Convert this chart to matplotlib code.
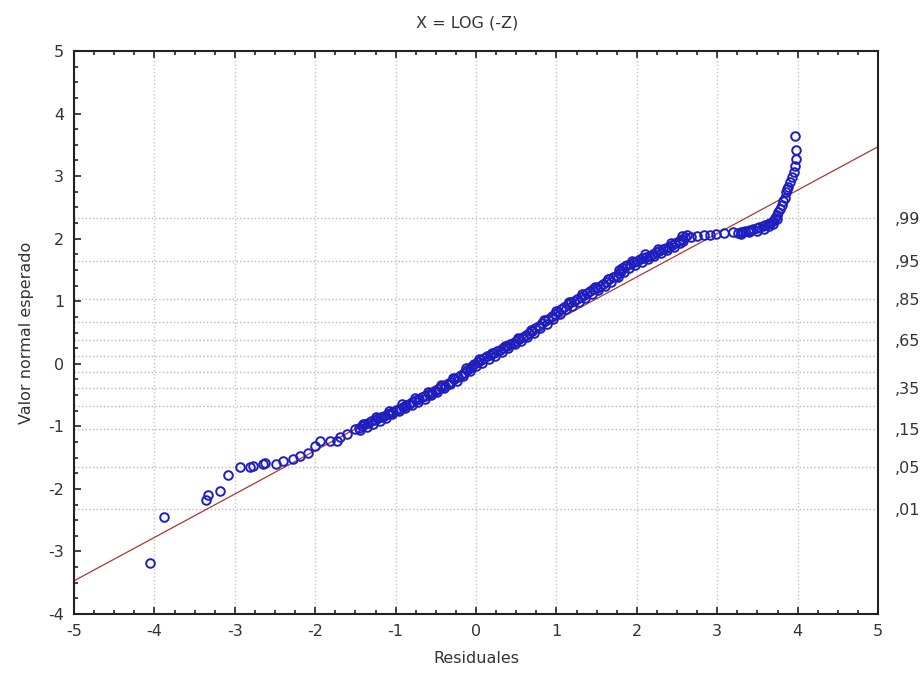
import matplotlib
matplotlib.use('Agg')
import matplotlib.pyplot as plt
from matplotlib.ticker import MultipleLocator
from statistics import NormalDist

# residuals (x) vs expected normal value (y)
resid = [
    -4.05, -3.88, -3.36, -3.33, -3.18, -3.08, -2.94, -2.81, -2.77, -2.65, -2.62,
    -2.49, -2.40, -2.27, -2.19, -2.09, -2.00, -1.94, -1.82, -1.73, -1.69, -1.60,
    -1.50, -1.46, -1.42, -1.38, -1.34, -1.30, -1.26, -1.22, -1.18, -1.14, -1.10, -1.07,
    -1.03, -0.99, -0.95, -0.91, -0.87, -0.83, -0.79, -0.75, -0.71, -0.67, -0.63,
    -0.59, -0.55, -0.51, -0.47, -0.43, -0.39,
    -0.35, -0.31, -0.27, -0.23, -0.19, -0.15, -0.11, -0.08, -0.05, -0.02, 0.02,
    0.06, 0.10, 0.14, 0.18, 0.22, 0.26, 0.30,
    0.34, 0.38, 0.42, 0.46, 0.50, 0.54, 0.58, 0.62, 0.66, 0.70, 0.74, 0.78, 0.82, 0.86, 0.90,
    0.94, 0.98, 1.02, 1.06, 1.10, 1.14, 1.18, 1.22, 1.26, 1.30, 1.34, 1.38, 1.42, 1.46, 1.50, 1.54,
    1.58, 1.62, 1.66, 1.70, 1.74, 1.78, 1.80, 1.82, 1.85, 1.88,
    1.92, 1.96, 2.00, 2.04, 2.08, 2.12, 2.16, 2.20, 2.24, 2.28, 2.32, 2.36, 2.40, 2.44,
    2.48, 2.52, 2.56, 2.60, 2.62,
    2.68, 2.75, 2.83, 2.91, 2.99, 3.08,
    3.20, 3.26, 3.29, 3.32, 3.35, 3.38, 3.41, 3.44, 3.49, 3.52, 3.57, 3.60, 3.63, 3.66,
    3.69, 3.72, 3.74, 3.76, 3.78, 3.80, 3.82, 3.84, 3.86, 3.87, 3.88, 3.91, 3.93,
    3.95, 3.97, 3.98, 3.98, 3.97,
]
expected = [
    -3.18, -2.45, -2.17, -2.09, -2.04, -1.77, -1.65, -1.65, -1.64, -1.60, -1.58,
    -1.60, -1.56, -1.52, -1.47, -1.43, -1.32, -1.23, -1.23, -1.23, -1.17, -1.12,
    -1.05, -1.03, -0.99, -0.97, -0.94, -0.92, -0.90, -0.87, -0.85, -0.83, -0.81, -0.79,
    -0.77, -0.74, -0.72, -0.69, -0.66, -0.64, -0.61, -0.58, -0.56, -0.53, -0.51,
    -0.48, -0.46, -0.43, -0.40, -0.37, -0.35,
    -0.32, -0.29, -0.25, -0.21, -0.18, -0.14, -0.10, -0.06, -0.03, 0.00, 0.03,
    0.06, 0.09, 0.12, 0.14, 0.17, 0.20, 0.22,
    0.25, 0.28, 0.31, 0.34, 0.37, 0.40, 0.43, 0.46, 0.49, 0.53, 0.57, 0.61, 0.65, 0.68, 0.72,
    0.76, 0.80, 0.83, 0.87, 0.91, 0.95, 0.98, 1.01, 1.04, 1.07, 1.10, 1.13, 1.16, 1.19, 1.21, 1.24,
    1.28, 1.31, 1.35, 1.38, 1.41, 1.45, 1.49, 1.53, 1.56, 1.58,
    1.60, 1.62, 1.64, 1.67, 1.69, 1.71, 1.73, 1.76, 1.78, 1.80, 1.83, 1.85, 1.87, 1.90,
    1.93, 1.96, 2.00, 2.03, 2.06,
    2.03, 2.04, 2.06, 2.06, 2.08, 2.09,
    2.10, 2.09, 2.10, 2.11, 2.12, 2.13, 2.14, 2.15, 2.17, 2.18, 2.20, 2.22, 2.23, 2.25,
    2.28, 2.33, 2.38, 2.43, 2.48, 2.54, 2.60, 2.65, 2.75, 2.79, 2.83, 2.91, 2.99,
    3.07, 3.16, 3.27, 3.41, 3.64,
]

# points on the lower / upper edge of the dense band
resid_lo = [
    -1.44, -1.36, -1.28, -1.20, -1.12, -1.04, -0.96, -0.88, -0.80, -0.72, -0.64, -0.56,
    -0.48, -0.40, -0.32, -0.24, -0.16, -0.08, 0.00, 0.08, 0.16, 0.24, 0.32, 0.40, 0.48,
    0.56, 0.64, 0.72, 0.80, 0.88, 0.96, 1.04, 1.12, 1.20, 1.28, 1.36, 1.44, 1.52, 1.60,
    1.68, 1.76, 1.84, 1.90, 1.98, 2.06, 2.14, 2.22, 2.30, 2.38, 2.46, 2.54, 2.58,
    3.30, 3.40, 3.50, 3.58, 3.65, 3.70, 3.74,
]
expected_lo = [
    -1.06, -1.01, -0.96, -0.91, -0.86, -0.81, -0.76, -0.71, -0.66, -0.61, -0.56, -0.50,
    -0.45, -0.39, -0.33, -0.27, -0.20, -0.11, -0.04, 0.02, 0.08, 0.13, 0.19, 0.25, 0.31,
    0.37, 0.43, 0.50, 0.57, 0.64, 0.72, 0.79, 0.87, 0.93, 0.99, 1.05, 1.12, 1.18, 1.24,
    1.31, 1.38, 1.47, 1.53, 1.58, 1.62, 1.67, 1.72, 1.77, 1.82, 1.87, 1.93, 1.97,
    2.07, 2.10, 2.13, 2.16, 2.20, 2.24, 2.32,
]
resid_hi = [
    -1.40, -1.24, -1.08, -0.92, -0.76, -0.60, -0.44, -0.28, -0.12, 0.04, 0.20, 0.36,
    0.52, 0.68, 0.84, 1.00, 1.16, 1.32, 1.48, 1.64, 1.78, 1.94, 2.10, 2.26, 2.42, 2.56,
]
expected_hi = [
    -0.96, -0.85, -0.75, -0.65, -0.55, -0.45, -0.34, -0.22, -0.06, 0.07, 0.18, 0.29,
    0.41, 0.54, 0.70, 0.84, 0.99, 1.12, 1.23, 1.36, 1.50, 1.65, 1.75, 1.83, 1.93, 2.04,
]

# fitted reference line
line_intercept = 0.0
line_slope = 0.694

# probability reference lines on the right
grid_probs = [0.01, 0.05, 0.15, 0.25, 0.35, 0.45, 0.55, 0.65, 0.75, 0.85, 0.95, 0.99]
label_probs = [0.01, 0.05, 0.15, 0.35, 0.65, 0.85, 0.95, 0.99]
label_text = [',01', ',05', ',15', ',35', ',65', ',85', ',95', ',99']

plt.rcParams['font.family'] = ['DejaVu Sans']
plt.rcParams['axes.unicode_minus'] = False
FS = 11.5
TXT = '#333333'

fig = plt.figure(figsize=(9.24, 6.84), dpi=100)
ax = fig.add_axes([74 / 924, 1 - 614 / 684, 804 / 924, 563 / 684])

nd = NormalDist()
for p in grid_probs:
    ax.axhline(nd.inv_cdf(p), color='#b8b8b8', ls=':', lw=1.0, zorder=1)
ax.grid(axis='x', which='major', color='#c4c4c4', ls=':', lw=1.0, zorder=1)

xs = [-5, 5]
ax.plot(xs, [line_intercept + line_slope * v for v in xs], color='#b03434', lw=0.9, zorder=2)
mk = dict(ls='none', marker='o', ms=6.2, mfc='none', mec='#1e1ec0', mew=1.4, zorder=3)
ax.plot(resid_lo, expected_lo, **mk)
ax.plot(resid_hi, expected_hi, **mk)
ax.plot(resid, expected, **mk)

ax.set_xlim(-5, 5)
ax.set_ylim(-4, 5)
ax.xaxis.set_major_locator(MultipleLocator(1))
ax.yaxis.set_major_locator(MultipleLocator(1))
ax.xaxis.set_minor_locator(MultipleLocator(0.25))
ax.yaxis.set_minor_locator(MultipleLocator(0.25))
ax.tick_params(which='both', direction='in', top=True, right=True, width=1.2, color='#222222')
ax.tick_params(which='major', length=5, labelsize=FS, labelcolor=TXT, pad=7)
ax.tick_params(which='minor', length=3)
for s in ax.spines.values():
    s.set_linewidth(1.5)
    s.set_color('#222222')

ax2 = ax.twinx()
ax2.set_ylim(-4, 5)
ax2.set_yticks([nd.inv_cdf(p) for p in label_probs])
ax2.set_yticklabels(label_text)
ax2.tick_params(axis='y', length=0, labelsize=FS, labelcolor=TXT, pad=12)
for s in ax2.spines.values():
    s.set_visible(False)

ax.set_xlabel('Residuales', fontsize=FS, color=TXT, labelpad=9)
ax.set_ylabel('Valor normal esperado', fontsize=FS, color=TXT, labelpad=10)
fig.text(467 / 924, 1 - 23 / 684, 'X = LOG (-Z)', ha='center', va='center', fontsize=FS, color=TXT)

fig.savefig('out.png', dpi=100)
